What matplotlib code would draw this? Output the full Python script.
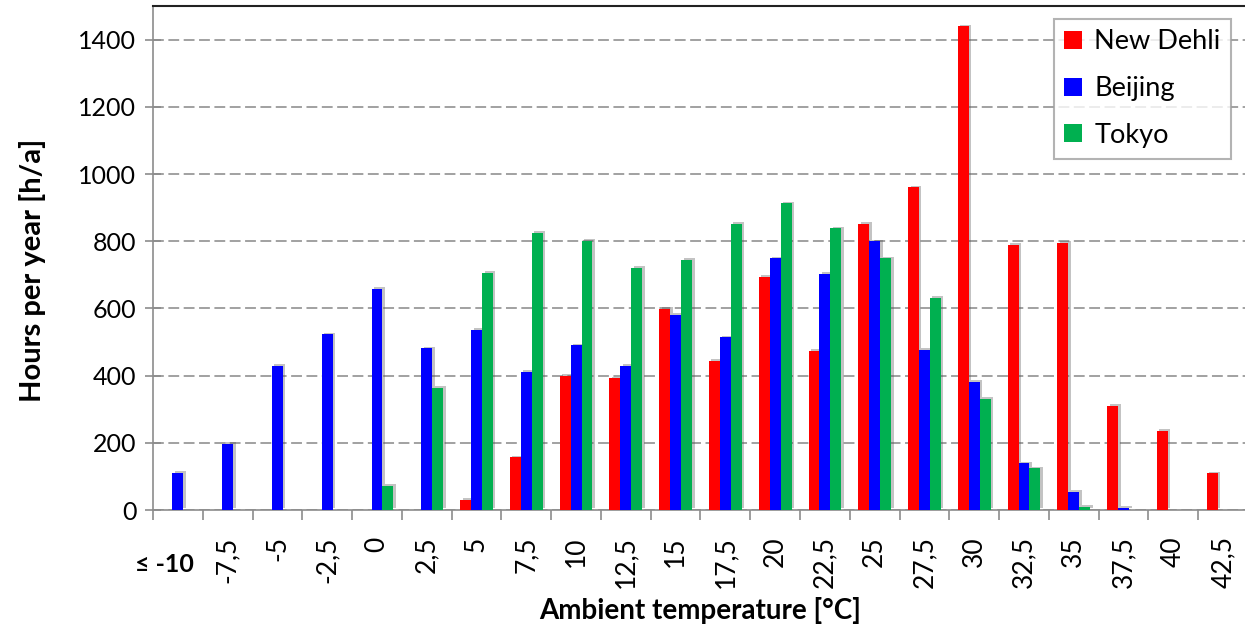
import numpy as np
import matplotlib.pyplot as plt
import matplotlib.patheffects as pe
from matplotlib.patches import Patch
from matplotlib.transforms import blended_transform_factory

plt.rcParams['font.family'] = ['Lato', 'DejaVu Sans']

# temperature classes and hours per year
temps = ['≤ -10', '-7,5', '-5', '-2,5', '0', '2,5', '5', '7,5', '10', '12,5', '15',
         '17,5', '20', '22,5', '25', '27,5', '30', '32,5', '35', '37,5', '40', '42,5']
new_dehli = [0, 0, 0, 0, 0, 0, 30, 157, 400, 392, 598, 443, 693, 473, 852, 960,
             1440, 790, 796, 311, 236, 109]
beijing = [111, 196, 429, 523, 659, 481, 537, 411, 490, 429, 580, 514, 749, 702, 800,
           477, 382, 139, 54, 6, 0, 0]
tokyo = [0, 0, 0, 0, 71, 364, 706, 825, 801, 721, 744, 852, 913, 838, 749, 632,
         331, 124, 10, 0, 0, 0]

series = [('New Dehli', new_dehli, '#ff0000'),
          ('Beijing', beijing, '#0000ff'),
          ('Tokyo', tokyo, '#00b050')]

fig = plt.figure(figsize=(12.45, 6.27), dpi=100)
ax = fig.add_axes([0.1229, 0.1866, 0.8795, 0.8038])

x = np.arange(len(temps))
w = 0.22
shadow = [pe.SimplePatchShadow(offset=(1.8, 1.2), shadow_rgbFace='#555555', alpha=0.35),
          pe.Normal()]
for i, (name, vals, col) in enumerate(series):
    bars = ax.bar(x + (i - 1) * w, vals, width=w, color=col, linewidth=0, zorder=3)
    for b in bars:
        if b.get_height() > 0:
            b.set_path_effects(shadow)

ax.set_xlim(-0.5, len(temps) - 0.5)
ax.set_ylim(0, 1500)
ax.set_yticks(np.arange(0, 1401, 200))
ax.yaxis.grid(True, linestyle=(0, (6, 2.5)), color='#9a9a9a', linewidth=1.3)
ax.set_axisbelow(True)
ax.tick_params(axis='y', direction='inout', length=12, width=1.2, color='#8c8c8c',
               labelsize=18, pad=6)

# ticks between classes, labels at class centres
ax.set_xticks(np.arange(-0.5, len(temps), 1.0))
ax.set_xticklabels([])
ax.tick_params(axis='x', which='major', direction='out', length=7, width=1.2,
               color='#8c8c8c')
ax.set_xticks(x, minor=True)
ax.set_xticklabels([''] + temps[1:], minor=True, rotation=90, fontsize=19)
ax.tick_params(axis='x', which='minor', length=0, pad=19)

trans = blended_transform_factory(ax.transData, ax.transAxes)
ax.text(-0.28, -0.109, temps[0], transform=trans, ha='center', va='center',
        fontsize=18, fontweight='bold')

for s in ['left', 'bottom']:
    ax.spines[s].set_color('#8c8c8c')
    ax.spines[s].set_linewidth(1.2)
ax.spines['top'].set_color('#222222')
ax.spines['top'].set_linewidth(1.5)
ax.spines['right'].set_visible(False)

ax.set_ylabel('Hours per year [h/a]', fontsize=21, fontweight='bold')
ax.set_xlabel('Ambient temperature [°C]', fontsize=20, fontweight='bold')
ax.xaxis.set_label_coords(0.5, -0.172)
ax.yaxis.set_label_coords(-0.098, 0.475)

handles = [Patch(facecolor=c, edgecolor='none', label=n) for n, _, c in series]
leg = ax.legend(handles=handles, loc='upper right', bbox_to_anchor=(0.9848, 0.975),
                fontsize=19.5, frameon=True, fancybox=False, edgecolor='#a0a0a0',
                handlelength=0.65, handleheight=0.65, handletextpad=0.45,
                labelspacing=0.8, borderpad=0.4, borderaxespad=0)
leg.get_frame().set_linewidth(1.5)

fig.savefig('out.png', dpi=100)
